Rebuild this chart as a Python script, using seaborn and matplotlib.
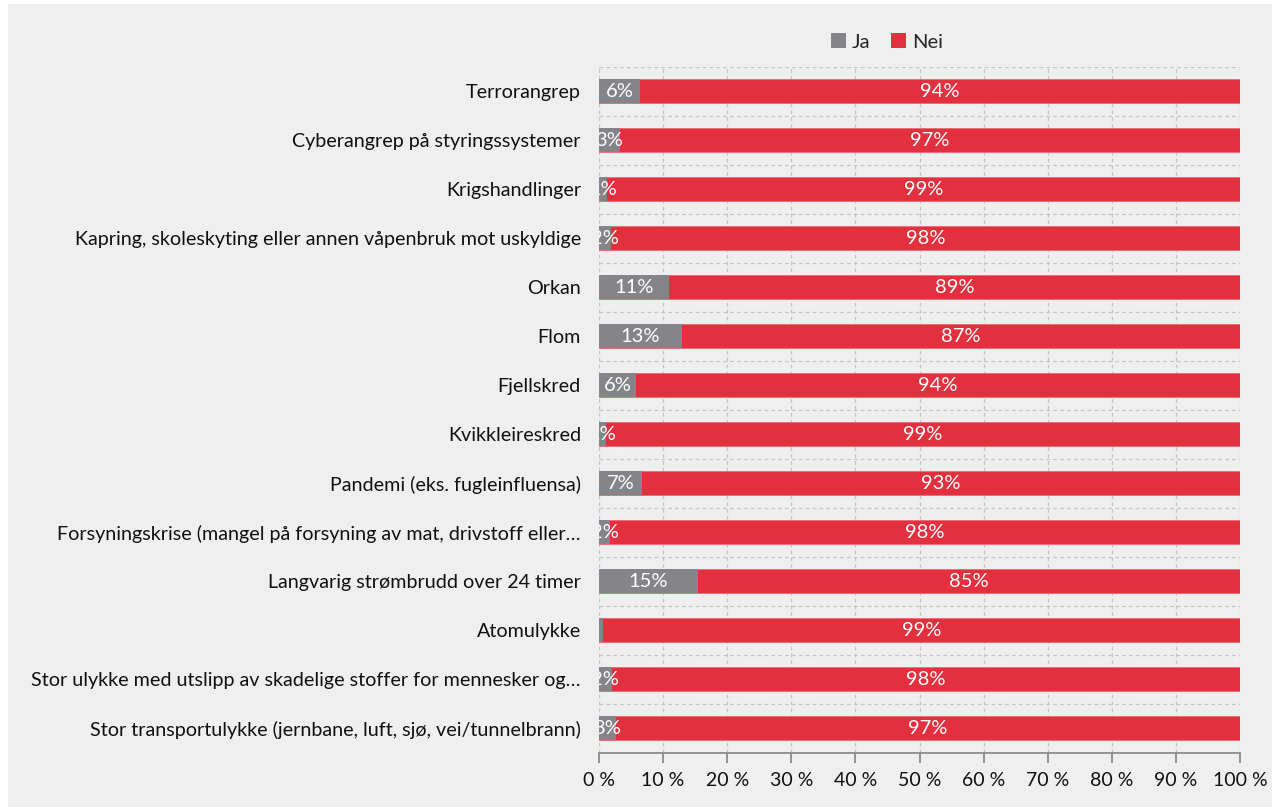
import matplotlib
matplotlib.use("Agg")
import matplotlib.pyplot as plt
from matplotlib.patches import Patch, Rectangle
import seaborn as sns
import pandas as pd
import numpy as np

categories = [
    "Terrorangrep",
    "Cyberangrep på styringssystemer",
    "Krigshandlinger",
    "Kapring, skoleskyting eller annen våpenbruk mot uskyldige",
    "Orkan",
    "Flom",
    "Fjellskred",
    "Kvikkleireskred",
    "Pandemi (eks. fugleinfluensa)",
    "Forsyningskrise (mangel på forsyning av mat, drivstoff eller…",
    "Langvarig strømbrudd over 24 timer",
    "Atomulykke",
    "Stor ulykke med utslipp av skadelige stoffer for mennesker og…",
    "Stor transportulykke (jernbane, luft, sjø, vei/tunnelbrann)",
]
ja = [6.4, 3.2, 1.2, 1.8, 10.9, 12.9, 5.8, 1.1, 6.7, 1.7, 15.4, 0.6, 2.0, 2.6]
nei = [93.6, 96.8, 98.8, 98.2, 89.1, 87.1, 94.2, 98.9, 93.3, 98.3, 84.6, 99.4, 98.0, 97.4]
ja_labels = ["6%", "3%", "1%", "2%", "11%", "13%", "6%", "1%", "7%", "2%", "15%", "", "2%", "3%"]
nei_labels = ["94%", "97%", "99%", "98%", "89%", "87%", "94%", "99%", "93%", "98%", "85%", "99%", "98%", "97%"]
xticks = [0, 10, 20, 30, 40, 50, 60, 70, 80, 90, 100]
series_names = ["Ja", "Nei"]

GRAY = "#858589"
RED = "#e3303e"
BG = "#efefef"
FONT = ["Lato", "DejaVu Sans"]

sns.set_theme(style="white")
plt.rcParams["font.family"] = FONT

df = pd.DataFrame({"cat": categories, "ja": ja, "nei": nei})
df["total"] = df["ja"] + df["nei"]

fig = plt.figure(figsize=(12.72, 8.08), dpi=100)
fig.patch.set_facecolor("white")
fig.patches.append(Rectangle((8 / 1272, 1 / 808), 1 - 8 / 1272, 1 - 5 / 808,
                             transform=fig.transFigure, facecolor=BG,
                             edgecolor="none", zorder=-10))

ax = fig.add_axes([599 / 1272, 1 - 752.5 / 808, (1240 - 599) / 1272, (752.5 - 66.5) / 808])
ax.set_facecolor(BG)

sns.barplot(data=df, y="cat", x="total", color=RED, orient="h", width=0.49,
            ax=ax, saturation=1, edgecolor="#ec6b74", linewidth=0.6, zorder=2)
sns.barplot(data=df, y="cat", x="ja", color=GRAY, orient="h", width=0.49,
            ax=ax, saturation=1, linewidth=0, zorder=3)

ax.set_xlim(0, 100)
ax.set_ylim(len(categories) - 0.5, -0.5)
ax.set_xlabel("")
ax.set_ylabel("")

# gridlines
for x in xticks:
    ax.axvline(x, color="#c4c4c4", lw=0.9, ls=(0, (3, 2.5)), zorder=1)
for i in range(len(categories)):
    ax.axhline(i - 0.5, color="#c4c4c4", lw=0.9, ls=(0, (3, 2.5)), zorder=1)

for sp in ["top", "right", "left"]:
    ax.spines[sp].set_visible(False)
ax.spines["bottom"].set_color("#8c8c8c")
ax.spines["bottom"].set_linewidth(1.3)
ax.spines["bottom"].set_zorder(5)

ax.set_xticks(xticks)
ax.set_xticklabels([f"{t} %" for t in xticks], fontsize=14, color="#111111")
ax.tick_params(axis="x", length=7, width=1.3, color="#8c8c8c", pad=7, bottom=True)
ax.tick_params(axis="y", length=0, pad=13, labelsize=14.2, labelcolor="#111111")

# data labels
for i in range(len(categories)):
    if ja_labels[i]:
        ax.text(ja[i] / 2, i, ja_labels[i], ha="center", va="center",
                color="white", fontsize=14.5, zorder=6, clip_on=True)
    ax.text(ja[i] + nei[i] / 2, i, nei_labels[i], ha="center", va="center",
            color="white", fontsize=14.5, zorder=6, clip_on=True)

handles = [Patch(facecolor=GRAY, edgecolor="none"), Patch(facecolor=RED, edgecolor="none")]
fig.legend(handles, series_names, loc="center", bbox_to_anchor=(887 / 1272, 1 - 42 / 808),
           ncol=2, frameon=False, fontsize=14.5, handlelength=0.75, handleheight=0.75,
           handletextpad=0.3, columnspacing=1.0)

fig.savefig("out.png", dpi=100, facecolor=fig.get_facecolor())
